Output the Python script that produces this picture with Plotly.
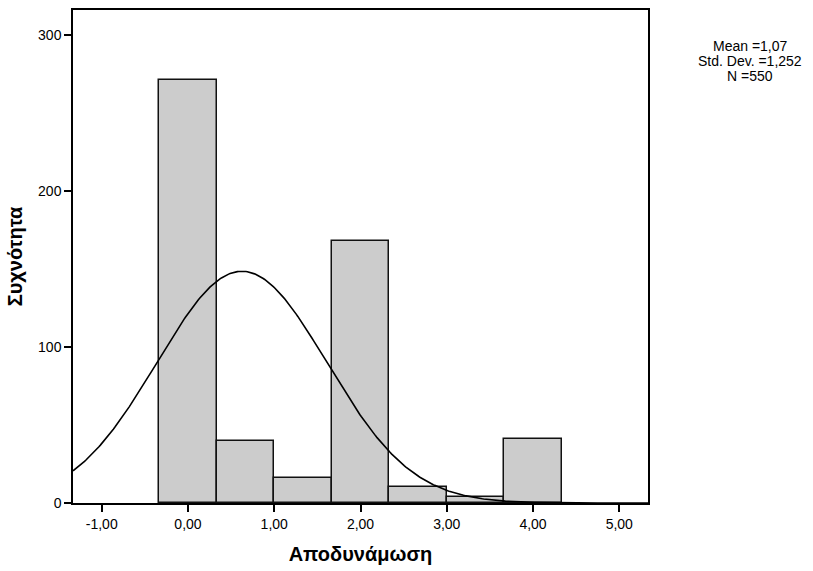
import numpy as np
import plotly.graph_objects as go

# Histogram data (bin centers and counts)
bin_centers = [0.0, 2/3, 4/3, 2.0, 8/3, 10/3, 4.0]
counts = [271, 40, 16, 168, 10, 4, 41]
bin_width = 2/3

# Fitted normal curve parameters (as drawn)
curve_mean = 0.625
curve_sd = 0.985
n_total = 550

x_ticks = [-1, 0, 1, 2, 3, 4, 5]
x_ticklabels = ["-1,00", "0,00", "1,00", "2,00", "3,00", "4,00", "5,00"]
y_ticks = [0, 100, 200, 300]
y_ticklabels = ["0", "100", "200", "300"]

stats_lines = ["Mean =1,07", "Std. Dev. =1,252", "N =550"]

x_range = [-1.333, 5.333]
y_range = [0, 316]

FONT = "Liberation Sans, Arial, sans-serif"

xc = np.linspace(x_range[0], x_range[1], 400)
yc = n_total * bin_width / (curve_sd * np.sqrt(2 * np.pi)) * np.exp(-0.5 * ((xc - curve_mean) / curve_sd) ** 2)

fig = go.Figure()
fig.add_trace(go.Bar(
    x=bin_centers, y=counts, width=[bin_width] * len(counts),
    marker=dict(color="#cccccc", line=dict(color="#111111", width=1.5)),
    hoverinfo="x+y", showlegend=False,
))
fig.add_trace(go.Scatter(
    x=xc, y=yc, mode="lines", line=dict(color="black", width=1.6),
    showlegend=False, hoverinfo="skip",
))

fig.update_layout(
    width=813, height=571,
    margin=dict(l=73, r=165, t=8, b=68),
    paper_bgcolor="white", plot_bgcolor="white",
    font=dict(family=FONT, color="black", size=14),
    bargap=0,
    xaxis=dict(
        range=x_range, tickvals=x_ticks, ticktext=x_ticklabels,
        showgrid=False, zeroline=False, showline=True, mirror=True,
        linecolor="black", linewidth=1.5, ticks="outside", ticklen=7,
        tickcolor="black", tickwidth=1.5,
        tickfont=dict(family=FONT, size=14),
        title=dict(text="<b>Αποδυνάμωση</b>", font=dict(family=FONT, size=20), standoff=16),
    ),
    yaxis=dict(
        range=y_range, tickvals=y_ticks, ticktext=y_ticklabels,
        showgrid=False, zeroline=False, showline=True, mirror=True,
        linecolor="black", linewidth=1.5, ticks="outside", ticklen=7,
        tickcolor="black", tickwidth=1.5,
        tickfont=dict(family=FONT, size=14),
        title=dict(text="<b>Συχνότητα</b>", font=dict(family=FONT, size=20), standoff=10),
    ),
)

for i, line in enumerate(stats_lines):
    fig.add_annotation(
        text=line, xref="paper", yref="paper",
        x=(750 - 73) / (813 - 73 - 165), y=1 - (44 + 15 * i - 8) / (571 - 8 - 68),
        xanchor="center", yanchor="middle", showarrow=False,
        font=dict(family=FONT, size=14, color="black"),
    )

fig.write_html("out.html")
